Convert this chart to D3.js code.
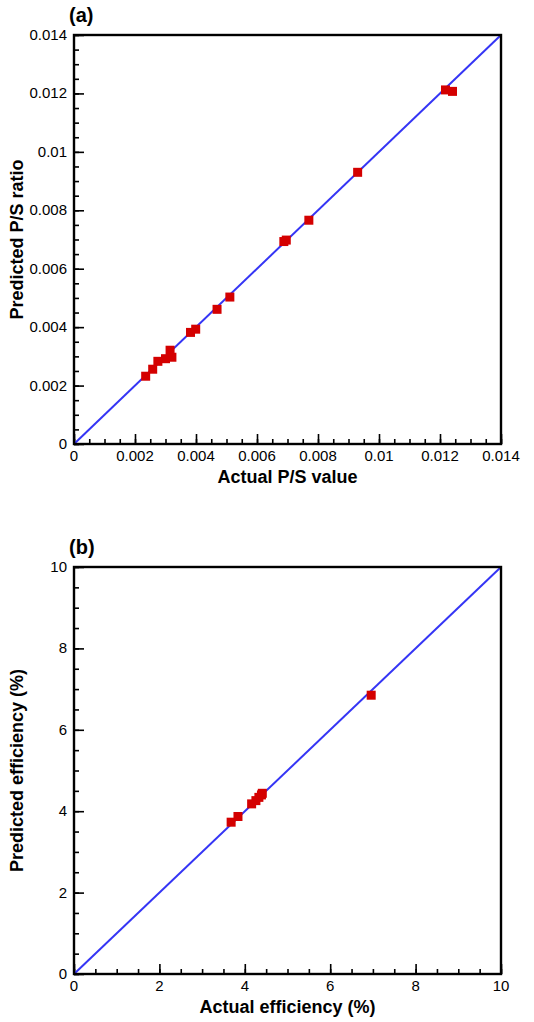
<!DOCTYPE html>
<html>
<head>
<meta charset="utf-8">
<script src="https://cdn.jsdelivr.net/npm/d3@7"></script>
<style>
  body { margin: 0; background: #fff; }
  svg { display: block; font-family: "Liberation Sans", Arial, sans-serif; }
</style>
</head>
<body>
<div id="chart"></div>
<script>
// panel (a): P/S ratio
const psActual    = [0.00235, 0.00258, 0.00275, 0.00300, 0.00315, 0.00321, 0.00382, 0.00399, 0.00469, 0.00511, 0.00688, 0.00696, 0.00770, 0.00930, 0.01218, 0.01241]
const psPredicted = [0.00232, 0.00256, 0.00283, 0.00292, 0.00321, 0.00297, 0.00382, 0.00393, 0.00461, 0.00503, 0.00693, 0.00698, 0.00766, 0.00930, 0.01212, 0.01207]
const psTicks = [0, 0.002, 0.004, 0.006, 0.008, 0.01, 0.012, 0.014]

// panel (b): efficiency
const effActual    = [3.68, 3.84, 4.16, 4.26, 4.33, 4.39, 4.41, 6.96]
const effPredicted = [3.73, 3.87, 4.18, 4.26, 4.34, 4.40, 4.44, 6.85]
const effTicks = [0, 2, 4, 6, 8, 10]

const panels = [
    {
        tag: "(a)", top: 35, bottom: 444,
        xs: psActual, ys: psPredicted, max: 0.014, ticks: psTicks, minorStep: 0.0005,
        xLabel: "Actual P/S value", yLabel: "Predicted P/S ratio",
    },
    {
        tag: "(b)", top: 567, bottom: 974,
        xs: effActual, ys: effPredicted, max: 10, ticks: effTicks, minorStep: 0.5,
        xLabel: "Actual efficiency (%)", yLabel: "Predicted efficiency (%)",
    },
]

const width = 534
const height = 1022
const left = 74
const right = 501

const svg = d3.select("#chart")
    .append("svg")
        .attr("width", width)
        .attr("height", height)

const fmt = d => d3.format("~g")(d)

panels.forEach(p => {
    const xScale = d3.scaleLinear()
        .domain([0, p.max])
        .range([left, right])
    const yScale = d3.scaleLinear()
        .domain([0, p.max])
        .range([p.bottom, p.top])

    const g = svg.append("g")

    const nMinor = Math.round(p.max / p.minorStep)
    const minor = d3.range(nMinor + 1).map(i => i * p.minorStep)

    // x axis ticks (pointing inward)
    g.append("g")
        .attr("transform", `translate(0,${p.bottom})`)
        .call(d3.axisTop(xScale).tickValues(minor).tickSize(5).tickFormat(""))
        .call(a => a.select(".domain").remove())
    g.append("g")
        .attr("transform", `translate(0,${p.bottom})`)
        .call(d3.axisTop(xScale).tickValues(p.ticks).tickSize(10).tickFormat(""))
        .call(a => a.select(".domain").remove())

    // y axis ticks (pointing inward)
    g.append("g")
        .attr("transform", `translate(${left},0)`)
        .call(d3.axisRight(yScale).tickValues(minor).tickSize(5).tickFormat(""))
        .call(a => a.select(".domain").remove())
    g.append("g")
        .attr("transform", `translate(${left},0)`)
        .call(d3.axisRight(yScale).tickValues(p.ticks).tickSize(10).tickFormat(""))
        .call(a => a.select(".domain").remove())

    g.selectAll(".tick line")
        .attr("stroke", "#000")
        .attr("stroke-width", 1.6)

    // tick labels
    g.selectAll(".xlab")
        .data(p.ticks)
        .enter()
        .append("text")
            .attr("x", d => xScale(d))
            .attr("y", p.bottom + 17)
            .attr("text-anchor", "middle")
            .style("font-size", "15px")
            .text(fmt)
    g.selectAll(".ylab")
        .data(p.ticks)
        .enter()
        .append("text")
            .attr("x", left - 7)
            .attr("y", d => yScale(d) + 5)
            .attr("text-anchor", "end")
            .style("font-size", "15px")
            .text(fmt)

    // diagonal y = x
    const lineGenerator = d3.line()
        .x(d => xScale(d))
        .y(d => yScale(d))
    g.append("path")
        .attr("d", lineGenerator([0, p.max]))
        .attr("fill", "none")
        .attr("stroke", "#3535f5")
        .attr("stroke-width", 2)

    // points
    const size = 9
    g.selectAll(".pt")
        .data(p.xs.map((x, i) => [x, p.ys[i]]))
        .enter()
        .append("rect")
            .attr("x", d => xScale(d[0]) - size / 2)
            .attr("y", d => yScale(d[1]) - size / 2)
            .attr("width", size)
            .attr("height", size)
            .attr("fill", "#d40000")

    // frame
    g.append("rect")
        .attr("x", left)
        .attr("y", p.top)
        .attr("width", right - left)
        .attr("height", p.bottom - p.top)
        .attr("fill", "none")
        .attr("stroke", "#000")
        .attr("stroke-width", 2.4)

    // labels
    g.append("text")
        .attr("x", 69)
        .attr("y", p.top - 13)
        .style("font-size", "20px")
        .attr("font-weight", 700)
        .text(p.tag)
    g.append("text")
        .attr("x", (left + right) / 2)
        .attr("y", p.bottom + 39)
        .attr("text-anchor", "middle")
        .style("font-size", "18px")
        .attr("font-weight", 700)
        .text(p.xLabel)
    g.append("text")
        .attr("transform", `translate(23,${(p.top + p.bottom) / 2}) rotate(-90)`)
        .attr("text-anchor", "middle")
        .style("font-size", "18px")
        .attr("font-weight", 700)
        .text(p.yLabel)
})
</script>
</body>
</html>
